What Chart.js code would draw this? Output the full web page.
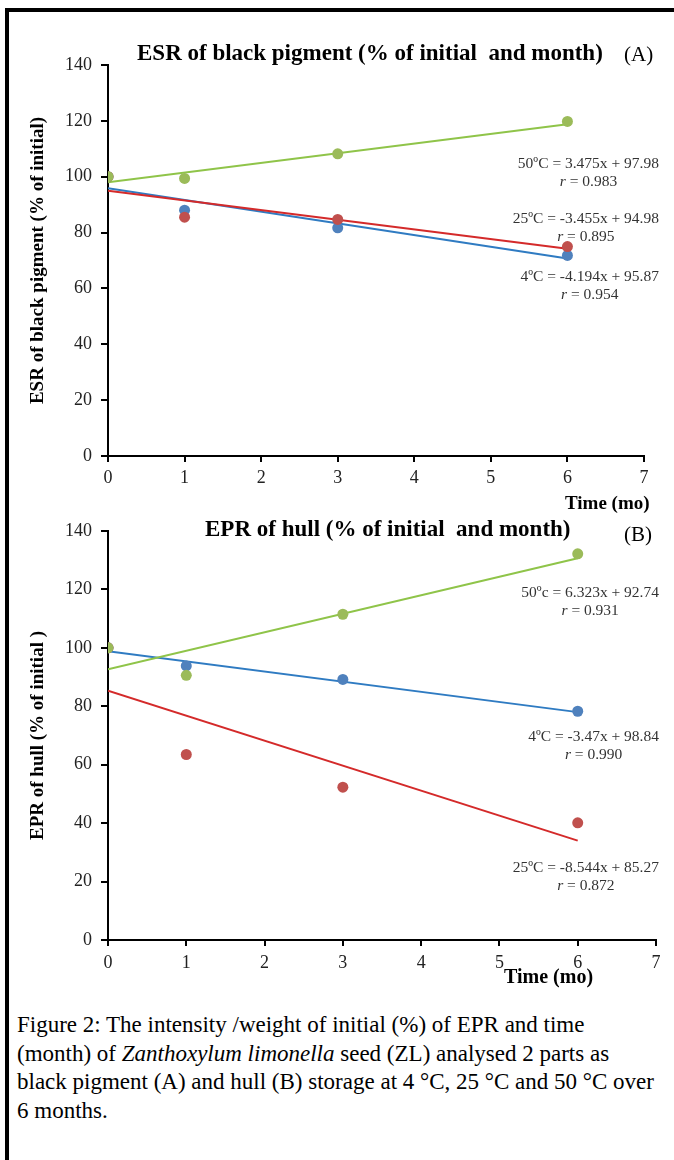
<!DOCTYPE html>
<html>
<head>
<meta charset="utf-8">
<script src="https://cdn.jsdelivr.net/npm/chart.js@4.4.1/dist/chart.umd.min.js"></script>
<style>
  html, body { margin: 0; padding: 0; background: #fff; }
  #page { position: relative; width: 674px; height: 1160px; overflow: hidden; background: #fff;
          font-family: "Liberation Serif", "Times New Roman", serif; color: #000; }
  #frame { position: absolute; left: 5px; top: 8px; width: 720px; height: 1200px;
           border-left: 4px solid #000; border-top: 4px solid #000; }
  canvas { position: absolute; left: 0; }
  .title { position: absolute; font-weight: bold; font-size: 23px; line-height: 1; white-space: pre; }
  .tag { position: absolute; font-size: 21px; line-height: 1; }
  .xlab { position: absolute; font-weight: bold; font-size: 19px; line-height: 1; white-space: pre; }
  .eq { position: absolute; right: 15px; text-align: center; font-size: 15.5px; line-height: 18px;
        color: #333; white-space: pre; }
  .caption { position: absolute; left: 17px; top: 1011px; font-size: 23px; line-height: 28.5px; white-space: nowrap; }
</style>
</head>
<body>
<div id="page">
  <div id="frame"></div>

  <canvas id="chartA" width="674" height="500" style="top:0px"></canvas>
  <canvas id="chartB" width="674" height="510" style="top:470px"></canvas>

  <div class="title" style="left:137px; top:41px">ESR of black pigment (% of initial  and month)</div>
  <div class="tag" style="left:624px; top:44px">(A)</div>
  <div class="xlab" style="left:565px; top:493px">Time (mo)</div>

  <div class="eq" style="top:154px">50ºC = 3.475x + 97.98<br><i>r</i> = 0.983</div>
  <div class="eq" style="top:209px">25ºC = -3.455x + 94.98<br><i>r</i> = 0.895</div>
  <div class="eq" style="top:267px">4ºC = -4.194x + 95.87<br><i>r</i> = 0.954</div>

  <div class="title" style="left:205px; top:517px">EPR of hull (% of initial  and month)</div>
  <div class="tag" style="left:624px; top:524px">(B)</div>
  <div class="xlab" style="left:504px; top:966px; font-size:20px">Time (mo)</div>

  <div class="eq" style="top:583px">50ºc = 6.323x + 92.74<br><i>r</i> = 0.931</div>
  <div class="eq" style="top:727px">4ºC = -3.47x + 98.84<br><i>r</i> = 0.990</div>
  <div class="eq" style="top:858px">25ºC = -8.544x + 85.27<br><i>r</i> = 0.872</div>

  <div class="caption">Figure 2: The intensity /weight of initial (%) of EPR and time<br>(month) of <i>Zanthoxylum limonella</i> seed (ZL) analysed 2 parts as<br>black pigment (A) and hull (B) storage at 4 °C, 25 °C and 50 °C over<br>6 months.</div>
</div>

<script>
// sampling months
const months = [0, 1, 3, 6];

// (A) ESR of black pigment, % of initial
const esr4 = [100, 88.0, 81.7, 71.8];
const esr25 = [100, 85.5, 84.7, 75.0];
const esr50 = [100, 99.4, 108.2, 119.8];

// (B) EPR of hull, % of initial
const epr4 = [100, 93.8, 89.2, 78.3];
const epr25 = [100, 63.5, 52.3, 40.1];
const epr50 = [100, 90.6, 111.5, 132.2];

// linear trend lines, value at start and end month
const trendMonths = [0, 6];
const esrTrend4 = [95.9, 70.7];
const esrTrend25 = [95.0, 74.2];
const esrTrend50 = [98.0, 118.8];
const eprTrend4 = [98.8, 78.0];
const eprTrend25 = [85.3, 34.0];
const eprTrend50 = [92.7, 130.7];

// axis ticks
const xTicks = [0, 1, 2, 3, 4, 5, 6, 7];
const yTicks = [0, 20, 40, 60, 80, 100, 120, 140];

const dotColors = { c4: '#4F81BD', c25: '#C0504D', c50: '#9BBB59' };
const lineColors = { c4: '#2F7BC2', c25: '#D42A2A', c50: '#8FC449' };
const serif = '"Liberation Serif", "Times New Roman", serif';

Chart.defaults.font.family = serif;

function pts(xs, ys) {
    return xs.map((x, i) => ({ x: x, y: ys[i] }));
}

function dots(ys, color, order) {
    return { type: 'scatter', data: pts(months, ys), backgroundColor: color, borderWidth: 0,
             pointRadius: 5.5, order: order };
}

function trend(ys, color, order) {
    return { type: 'line', data: pts(trendMonths, ys), borderColor: color, borderWidth: 2,
             pointRadius: 0, fill: false, order: order };
}

function makePanel(id, series, trends, yTitle, box) {
    const ctx = document.getElementById(id).getContext('2d');
    return new Chart(ctx, {
        type: 'scatter',
        data: {
            datasets: [
                dots(series[2], dotColors.c50, 1),
                dots(series[1], dotColors.c25, 2),
                dots(series[0], dotColors.c4, 3),
                trend(trends[2], lineColors.c50, 4),
                trend(trends[1], lineColors.c25, 5),
                trend(trends[0], lineColors.c4, 6),
            ]
        },
        options: {
            responsive: false,
            animation: false,
            devicePixelRatio: 1,
            layout: { padding: { left: 0, top: box.top, right: box.right, bottom: 0 } },
            plugins: { legend: { display: false }, tooltip: { enabled: false } },
            scales: {
                x: {
                    type: 'linear',
                    min: xTicks[0], max: xTicks[xTicks.length - 1],
                    afterBuildTicks: (s) => { s.ticks = xTicks.map(v => ({ value: v })); },
                    afterFit: (s) => { s.height = box.xHeight; },
                    border: { display: true, color: '#000', width: 2 },
                    grid: { display: true, drawOnChartArea: false, color: '#000', lineWidth: 2, tickLength: 6 },
                    ticks: { color: '#222', font: { family: serif, size: 18 }, padding: box.xPad, maxRotation: 0 }
                },
                y: {
                    type: 'linear',
                    min: yTicks[0], max: yTicks[yTicks.length - 1],
                    afterBuildTicks: (s) => { s.ticks = yTicks.map(v => ({ value: v })); },
                    afterFit: (s) => { s.width = 108; },
                    border: { display: true, color: '#000', width: 2 },
                    grid: { display: true, drawOnChartArea: false, color: '#000', lineWidth: 2, tickLength: 7 },
                    ticks: { color: '#222', font: { family: serif, size: 18 }, padding: 9 },
                    title: { display: true, text: yTitle, color: '#000',
                             font: { family: serif, size: 19, weight: 'bold' }, padding: { top: 27, bottom: 0 } }
                }
            }
        }
    });
}

makePanel('chartA', [esr4, esr25, esr50], [esrTrend4, esrTrend25, esrTrend50],
          'ESR of black pigment (% of initial)',
          { top: 65, right: 30, xHeight: 44, xPad: 5 });

makePanel('chartB', [epr4, epr25, epr50], [eprTrend4, eprTrend25, eprTrend50],
          'EPR of hull (% of initial )',
          { top: 61, right: 18, xHeight: 40, xPad: 6 });
</script>
</body>
</html>
